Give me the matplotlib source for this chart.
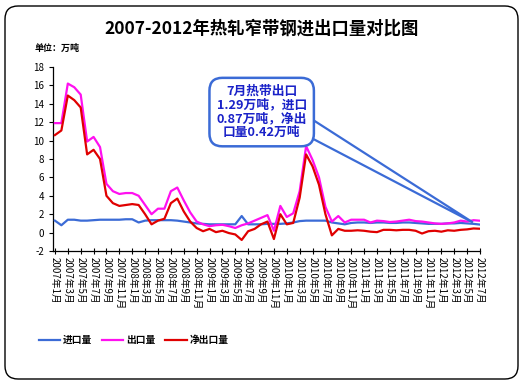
import numpy as np
import matplotlib
matplotlib.use("Agg")
import matplotlib.pyplot as plt
from matplotlib.patches import FancyBboxPatch, Polygon

plt.rcParams["font.family"] = ["Noto Sans CJK SC", "DejaVu Sans"]
plt.rcParams["axes.unicode_minus"] = False

# ── 数据 (2007年1月 – 2012年7月, 万吨) ─────────────────────────────────────
MONTHS = [f"{2007 + k // 12}年{k % 12 + 1}月" for k in range(67)]

IMPORTS = [1.3, 0.8, 1.4, 1.4, 1.3, 1.3, 1.35, 1.4, 1.4, 1.4,
           1.4, 1.45, 1.45, 1.1, 1.3, 1.35, 1.35, 1.35, 1.35, 1.3,
           1.2, 1.1, 1.0, 0.95, 0.9, 0.9, 0.9, 0.9, 0.9, 1.8,
           0.9, 0.9, 0.9, 0.95, 0.95, 0.95, 1.0, 1.1, 1.25, 1.3,
           1.3, 1.3, 1.3, 1.1, 1.0, 0.9, 1.05, 1.1, 1.1, 1.05,
           1.1, 1.1, 1.05, 1.05, 1.1, 1.1, 1.05, 1.0, 0.95, 0.95,
           0.95, 1.0, 1.0, 1.05, 1.0, 0.95, 0.87]

EXPORTS = [11.9, 11.9, 16.2, 15.8, 15.0, 9.9, 10.4, 9.3, 5.3, 4.5,
           4.2, 4.3, 4.3, 4.0, 3.0, 2.0, 2.6, 2.6, 4.5, 4.9,
           3.5, 2.2, 1.2, 0.9, 0.7, 0.8, 0.85, 0.7, 0.5, 0.8,
           1.0, 1.3, 1.6, 1.9, 0.2, 2.9, 1.7, 2.1, 4.5, 9.4,
           7.9, 6.0, 2.8, 1.2, 1.8, 1.1, 1.4, 1.4, 1.4, 1.1,
           1.3, 1.25, 1.15, 1.2, 1.3, 1.4, 1.25, 1.2, 1.1, 1.0,
           0.95, 1.0, 1.1, 1.3, 1.2, 1.35, 1.29]

NET = [10.6, 11.1, 14.9, 14.4, 13.6, 8.5, 9.0, 8.0, 4.0, 3.2,
       2.9, 3.0, 3.1, 3.0, 2.0, 0.9, 1.3, 1.5, 3.2, 3.7,
       2.3, 1.2, 0.5, 0.15, 0.4, 0.05, 0.2, -0.05, -0.2, -0.8,
       0.15, 0.4, 0.9, 1.2, -0.7, 2.0, 0.9, 1.05, 3.8, 8.5,
       7.2, 5.2, 2.0, -0.3, 0.4, 0.2, 0.2, 0.25, 0.2, 0.1,
       0.05, 0.3, 0.3, 0.25, 0.3, 0.3, 0.2, -0.1, 0.15, 0.2,
       0.1, 0.25, 0.2, 0.3, 0.35, 0.45, 0.42]

BLUE = "#3b6bd6"
MAGENTA = "#ff10f0"
RED = "#e00000"
TEXT_BLUE = "#1a22c8"

x = np.arange(len(MONTHS))

fig = plt.figure(figsize=(5.24, 3.84), dpi=100)
ax = fig.add_axes([53 / 524, 133 / 384, 427 / 524, 184 / 384])

ax.plot(x, IMPORTS, color=BLUE, lw=1.6, label="进口量", zorder=3)
ax.plot(x, EXPORTS, color=MAGENTA, lw=1.6, label="出口量", zorder=3)
ax.plot(x, NET, color=RED, lw=1.6, label="净出口量", zorder=3)

ax.set_xlim(-0.3, 66)
ax.set_ylim(-2, 18)
ax.set_yticks(range(-2, 19, 2))
ax.tick_params(axis="y", labelsize=7, direction="out", length=3, width=0.8)
ax.set_xticks(x[::2])
ax.set_xticklabels(MONTHS[::2], rotation=-90, fontsize=7, va="top", ha="center")
ax.tick_params(axis="x", direction="inout", length=4, width=0.8, pad=2)
for s in ("top", "right"):
    ax.spines[s].set_visible(False)
for s in ("left", "bottom"):
    ax.spines[s].set_linewidth(0.9)

# ── 标注框 ────────────────────────────────────────────────────────────────
wedge = Polygon([(39.5, 12.5), (64.9, 1.1), (39.5, 10.4)], closed=True,
                facecolor="white", edgecolor=BLUE, lw=1.6, zorder=4)
ax.add_patch(wedge)
ax.text(32.1, 13.1, "7月热带出口\n1.29万吨，进口\n0.87万吨，净出\n口量0.42万吨",
        ha="center", va="center", fontsize=9.2, fontweight="bold",
        color=TEXT_BLUE, linespacing=1.08, zorder=5,
        bbox=dict(boxstyle="round,pad=0.55,rounding_size=1.0",
                  fc="white", ec=BLUE, lw=1.8))

# ── 标题、单位、图例 ─────────────────────────────────────────────────────
fig.text(0.5, 1 - 29 / 384, "2007-2012年热轧窄带钢进出口量对比图",
         ha="center", va="center", fontsize=12.5, fontweight="bold")
fig.text(35 / 524, 1 - 48 / 384, "单位：万吨", ha="left", va="center",
         fontsize=6.5, fontweight="bold")

fig.legend(loc="center left", bbox_to_anchor=(30 / 524, 1 - 340 / 384),
           ncol=3, frameon=False,
           prop={"weight": "bold", "size": 7},
           handlelength=2.2, handletextpad=0.3, columnspacing=1.0)

border = FancyBboxPatch((5 / 524, 5 / 384), 513 / 524, 373 / 384,
                        boxstyle="round,pad=0,rounding_size=0.025",
                        transform=fig.transFigure, fc="none", ec="black",
                        lw=1.0, mutation_aspect=524 / 384)
fig.patches.append(border)

fig.savefig("out.png", dpi=100)
